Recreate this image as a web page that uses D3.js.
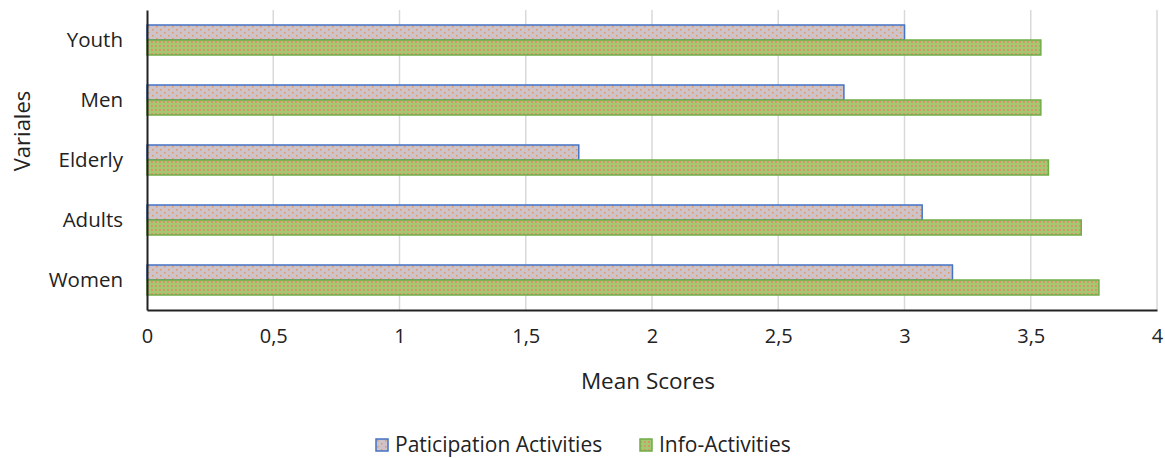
<!DOCTYPE html>
<html>
<head>
<meta charset="utf-8">
<script src="https://cdn.jsdelivr.net/npm/d3@7"></script>
<style>
  body { margin: 0; background: #fff; }
  svg text { font-family: "Open Sans", "Noto Sans", sans-serif; fill: #222; }
</style>
</head>
<body>
<svg id="chart" width="1165" height="458"></svg>
<script>
// Data
const categories = ['Youth', 'Men', 'Elderly', 'Adults', 'Women'];
const participation = [3.0, 2.76, 1.71, 3.07, 3.19];
const info = [3.54, 3.54, 3.57, 3.70, 3.77];
const xTicks = [0, 0.5, 1, 1.5, 2, 2.5, 3, 3.5, 4];
const seriesNames = ['Paticipation Activities', 'Info-Activities'];

const svg = d3.select('#chart');
const margin = { top: 10, right: 8, bottom: 148, left: 147 };
const width = 1165 - margin.left - margin.right;
const height = 458 - margin.top - margin.bottom;

// Patterns
const defs = svg.append('defs');
const p1 = defs.append('pattern').attr('id', 'pat-part')
    .attr('patternUnits', 'userSpaceOnUse').attr('width', 8).attr('height', 6);
p1.append('rect').attr('width', 8).attr('height', 6).attr('fill', '#cdc3c8');
p1.append('rect').attr('x', 1).attr('y', 1).attr('width', 1.5).attr('height', 1.5).attr('fill', '#e09a68');
p1.append('rect').attr('x', 5).attr('y', 4).attr('width', 1.5).attr('height', 1.5).attr('fill', '#e09a68');

const p2 = defs.append('pattern').attr('id', 'pat-info')
    .attr('patternUnits', 'userSpaceOnUse').attr('width', 4).attr('height', 4);
p2.append('rect').attr('width', 4).attr('height', 4).attr('fill', '#a4c870');
p2.append('rect').attr('x', 0).attr('y', 0).attr('width', 2).attr('height', 2).attr('fill', '#d8946a');

const g = svg.append('g').attr('transform', `translate(${margin.left},${margin.top})`);

const x = d3.scaleLinear().domain([0, 4]).range([0, width]);
const y0 = d3.scaleBand().domain(categories).range([0, height]).paddingInner(0.5).paddingOuter(0.25);
const y1 = d3.scaleBand().domain(['p', 'i']).range([0, y0.bandwidth()]);

// Gridlines
g.selectAll('.grid').data(xTicks.slice(1)).enter().append('line')
    .attr('x1', d => x(d)).attr('x2', d => x(d))
    .attr('y1', 0).attr('y2', height)
    .style('stroke', '#d9d9d9').style('stroke-width', 1.5);

// Bars
const rows = g.selectAll('.row').data(categories).enter().append('g')
    .attr('transform', d => `translate(0,${y0(d)})`);

rows.append('rect')
    .attr('x', 0).attr('y', y1('p'))
    .attr('width', (d, i) => x(participation[i]))
    .attr('height', y1.bandwidth())
    .attr('fill', 'url(#pat-part)')
    .attr('stroke', '#4472c4').attr('stroke-width', 1.5);

rows.append('rect')
    .attr('x', 0).attr('y', y1('i'))
    .attr('width', (d, i) => x(info[i]))
    .attr('height', y1.bandwidth())
    .attr('fill', 'url(#pat-info)')
    .attr('stroke', '#70ad47').attr('stroke-width', 1.5);

// Axes
const xAxis = g.append('g').attr('transform', `translate(0,${height})`)
    .call(d3.axisBottom(x).tickValues(xTicks).tickSize(0).tickPadding(19)
        .tickFormat(d => String(d).replace('.', ',')));
xAxis.select('.domain').style('stroke', '#222').style('stroke-width', 2);
xAxis.selectAll('text').style('font-size', '20px');

const yAxis = g.append('g')
    .call(d3.axisLeft(y0).tickSize(0).tickPadding(24));
yAxis.select('.domain').style('stroke', '#222').style('stroke-width', 2);
yAxis.selectAll('text').style('font-size', '20.5px');

// Axis titles
svg.append('text')
    .attr('x', margin.left + width / 2 - 4).attr('y', 389)
    .attr('text-anchor', 'middle').style('font-size', '22.5px')
    .text('Mean Scores');

svg.append('text')
    .attr('transform', `translate(30,${margin.top + 121}) rotate(-90)`)
    .attr('text-anchor', 'middle').style('font-size', '22px')
    .text('Variales');

// Legend
const legend = svg.append('g').attr('transform', 'translate(376,445)');
const legendX = [0, 264];
const legendFill = ['url(#pat-part)', 'url(#pat-info)'];
const legendStroke = ['#4472c4', '#70ad47'];
seriesNames.forEach((name, i) => {
    const lg = legend.append('g').attr('transform', `translate(${legendX[i]},0)`);
    lg.append('rect').attr('x', 0).attr('y', -6).attr('width', 12).attr('height', 12)
        .attr('fill', legendFill[i]).attr('stroke', legendStroke[i]).attr('stroke-width', 1.5);
    lg.append('text').attr('x', 19).attr('y', 0).attr('dy', '0.35em')
        .style('font-size', '21px').text(name);
});
</script>
</body>
</html>
